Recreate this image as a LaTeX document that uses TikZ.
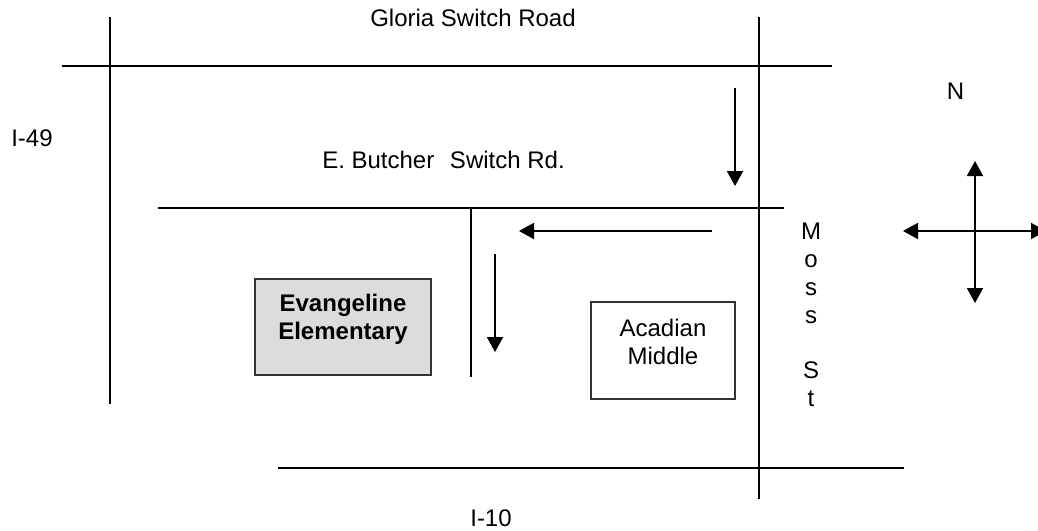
\documentclass[tikz,border=0pt]{standalone}
\usepackage{fontspec}
\setmainfont{Liberation Sans}
\usetikzlibrary{arrows.meta}
\definecolor{boxgray}{HTML}{DCDCDC}
\tikzset{
 road/.style={draw=black,line width=1.9pt},
 tipb/.tip={Triangle[length=15pt,width=16pt]},
 arr/.style={draw=black,line width=1.9pt,-tipb},
 arrtwo/.style={draw=black,line width=1.9pt,tipb-tipb},
 lab/.style={font=\fontsize{24pt}{28pt}\selectfont,inner sep=0pt,align=center,text=black},
 bld/.style={draw=black!80,line width=1.8pt,inner sep=0pt,align=center}
}
\begin{document}
\begin{tikzpicture}[x=1pt,y=-1pt]
\useasboundingbox (0,0) rectangle (1038,530);
\coordinate (a1) at (110,17); \coordinate (a2) at (110,404); \draw[road] (a1)--(a2);
\coordinate (b1) at (62,66); \coordinate (b2) at (832,66); \draw[road] (b1)--(b2);
\coordinate (c1) at (759,17); \coordinate (c2) at (759,499); \draw[road] (c1)--(c2);
\coordinate (d1) at (158,208); \coordinate (d2) at (784,208); \draw[road] (d1)--(d2);
\coordinate (e1) at (471,208); \coordinate (e2) at (471,377); \draw[road] (e1)--(e2);
\coordinate (f1) at (278,468); \coordinate (f2) at (904,468); \draw[road] (f1)--(f2);
\coordinate (g1) at (735,88); \coordinate (g2) at (735,186); \draw[arr] (g1)--(g2);
\coordinate (h1) at (712,231); \coordinate (h2) at (519,231); \draw[arr] (h1)--(h2);
\coordinate (i1) at (495,254); \coordinate (i2) at (495,352); \draw[arr] (i1)--(i2);
\coordinate (j1) at (975,161); \coordinate (j2) at (975,303); \draw[arrtwo] (j1)--(j2);
\coordinate (k1) at (903,231); \coordinate (k2) at (1046,231); \draw[arrtwo] (k1)--(k2);
\node[bld,fill=boxgray,minimum width=176pt,minimum height=96pt] (ev) at (343,327) {};
\node[lab,font=\fontsize{24pt}{28pt}\selectfont\bfseries] (evl) at (343,319.5) {Evangeline\\Elementary};
\node[bld,minimum width=144pt,minimum height=97pt] (ac) at (663,350.5) {};
\node[lab] (acl) at (663,341.5) {Acadian\\Middle};
\node[lab,anchor=base] (t1) at (473,27) {Gloria Switch Road};
\node[lab,anchor=base] (t2) at (32,146) {I-49};
\node[lab,anchor=base] (t3) at (443.5,168) {E. Butcher\hspace{9pt} Switch Rd.};
\node[lab,anchor=base] (t4) at (955.5,99) {N};
\node[lab,anchor=base] (t5) at (491,526.5) {I-10};
\node[lab,anchor=north] (t6) at (811,223) {M\\o\\s\\s\\[27pt]S\\t};
\end{tikzpicture}
\end{document}
